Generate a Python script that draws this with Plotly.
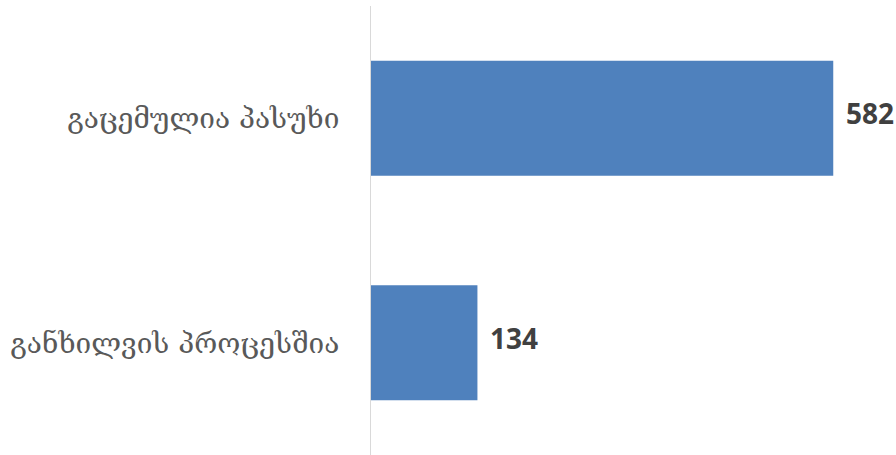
import plotly.graph_objects as go

# Application status counts
categories = ["გაცემულია პასუხი", "განხილვის პროცესშია"]
values = [582, 134]

bar_color = "#4F81BD"
label_color = "#595959"
value_color = "#404040"

fig = go.Figure(
    go.Bar(
        x=values,
        y=categories,
        orientation="h",
        marker=dict(color=bar_color, line=dict(width=0)),
        hoverinfo="x+y",
    )
)

# Value labels just to the right of each bar end
for cat, val in zip(categories, values):
    fig.add_annotation(
        x=val,
        y=cat,
        text=f"<b>{val}</b>",
        showarrow=False,
        xanchor="left",
        xshift=11,
        yshift=5,
        font=dict(family="Open Sans", size=28, color=value_color),
    )

fig.update_layout(
    width=896,
    height=455,
    margin=dict(l=371, r=0, t=6, b=0, autoexpand=False),
    paper_bgcolor="white",
    plot_bgcolor="white",
    bargap=0.488,
    showlegend=False,
    xaxis=dict(
        range=[0, 661],
        visible=False,
        showgrid=False,
        zeroline=False,
    ),
    yaxis=dict(
        autorange="reversed",
        automargin=False,
        showline=True,
        linecolor="#D9D9D9",
        linewidth=1,
        showgrid=False,
        ticks="",
        ticklabelstandoff=25,
        tickfont=dict(family="DejaVu Serif", size=28, color=label_color),
    ),
)

fig.write_html("out.html")
